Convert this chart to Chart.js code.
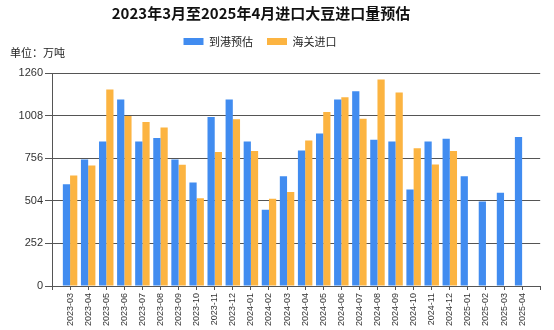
<!DOCTYPE html>
<html>
<head>
<meta charset="utf-8">
<script src="https://cdn.jsdelivr.net/npm/chart.js@4/dist/chart.umd.min.js"></script>
<style>
  html, body { margin: 0; padding: 0; background: #ffffff; }
  #c { display: block; }
</style>
</head>
<body>
<canvas id="c" width="554" height="330"></canvas>
<script>
const titleText = '2023年3月至2025年4月进口大豆进口量预估';
const unitLabel = '单位：万吨';
const seriesNames = ['到港预估', '海关进口'];
const categories = [
  '2023-03','2023-04','2023-05','2023-06','2023-07','2023-08','2023-09','2023-10','2023-11','2023-12',
  '2024-01','2024-02','2024-03','2024-04','2024-05','2024-06','2024-07','2024-08','2024-09','2024-10',
  '2024-11','2024-12','2025-01','2025-02','2025-03','2025-04'
];
const arrivalEstimate = [603, 749, 856, 1105, 856, 876, 749, 613, 1000, 1105,
  856, 451, 650, 803, 903, 1105, 1153, 866, 856, 571,
  856, 872, 650, 500, 552, 882];
const customsImport = [654, 714, 1164, 1006, 971, 939, 718, 520, 793, 987,
  799, 516, 557, 862, 1030, 1117, 990, 1222, 1145, 815,
  720, 799];
const yTicks = [0, 252, 504, 756, 1008, 1260];

const FONT = "'Liberation Sans', 'Noto Sans CJK SC', Arial, sans-serif";
const GRID = '#555555';

const toPoints = arr => arr.map((v, i) => ({ x: i, y: v }));

const nudge = {
  id: 'nudge',
  afterLayout(chart) {
    if (chart.titleBlock) chart.titleBlock.left -= 32;
    if (chart.legend) chart.legend.left -= 34;
    const sub = chart.boxes.find(b => b.options && b.options.text === unitLabel);
    if (sub) { sub.top -= 10.5; sub.bottom -= 10.5; }
  }
};

new Chart(document.getElementById('c'), {
  type: 'bar',
  data: {
    datasets: [
      { label: seriesNames[0], data: toPoints(arrivalEstimate), backgroundColor: '#418CF0', borderWidth: 0 },
      { label: seriesNames[1], data: toPoints(customsImport), backgroundColor: '#FCB441', borderWidth: 0 }
    ]
  },
  options: {
    responsive: false,
    animation: false,
    devicePixelRatio: 1,
    categoryPercentage: 0.8,
    barPercentage: 1.0,
    layout: { padding: { left: 10, right: 10, top: 0, bottom: 0 } },
    plugins: {
      title: {
        display: true,
        text: titleText,
        color: '#111',
        font: { family: "'Noto Sans CJK SC', sans-serif", size: 15, weight: 'bold' },
        padding: { top: 4, bottom: 0 }
      },
      legend: {
        display: true,
        position: 'top',
        labels: {
          boxWidth: 20,
          boxHeight: 7,
          padding: 14,
          color: '#222',
          font: { family: "'Noto Sans CJK SC', sans-serif", size: 11 }
        }
      },
      subtitle: {
        display: true,
        text: unitLabel,
        align: 'start',
        weight: 500,
        color: '#222',
        font: { family: "'Noto Sans CJK SC', sans-serif", size: 11 },
        padding: { top: 0, bottom: 3 }
      },
      tooltip: { enabled: false }
    },
    scales: {
      x: {
        type: 'linear',
        offset: false,
        min: -1,
        max: categories.length,
        afterFit(scale) { scale.height = 44; },
        grid: { drawOnChartArea: false, drawTicks: true, tickLength: 4, color: GRID, offset: false },
        border: { color: GRID },
        ticks: {
          stepSize: 1,
          maxTicksLimit: 40,
          autoSkip: false,
          minRotation: 90,
          maxRotation: 90,
          padding: 3,
          color: '#333',
          font: { family: FONT, size: 9 },
          callback: v => (Number.isInteger(v) && categories[v]) ? categories[v] : ''
        }
      },
      y: {
        min: yTicks[0],
        max: yTicks[yTicks.length - 1],
        afterFit(scale) { scale.width = 42; },
        afterBuildTicks(scale) { scale.ticks = yTicks.map(v => ({ value: v })); },
        grid: { color: GRID, tickLength: 7 },
        border: { color: GRID },
        ticks: {
          padding: 2,
          color: '#333',
          font: { family: FONT, size: 11 },
          callback: v => String(v)
        }
      }
    }
  },
  plugins: [nudge]
});
</script>
</body>
</html>
